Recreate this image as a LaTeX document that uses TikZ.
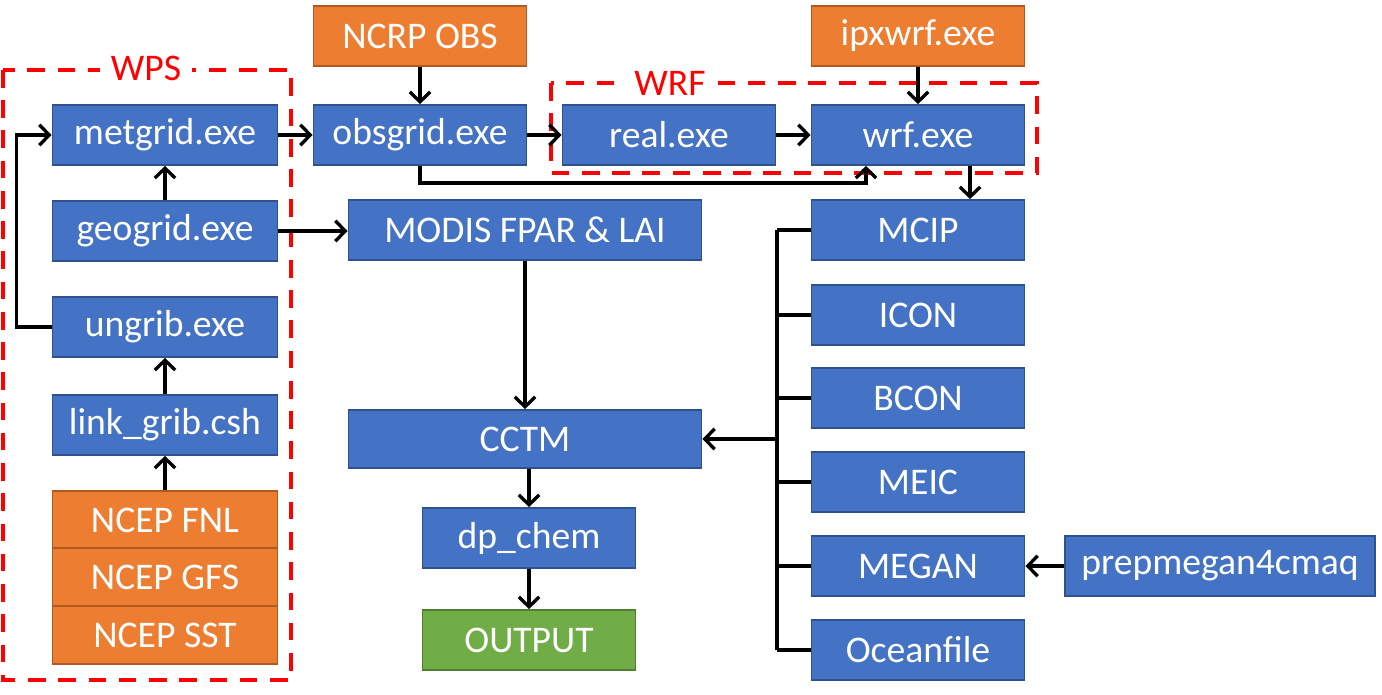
\documentclass[tikz,border=0pt]{standalone}
\usepackage{fontspec}
\setmainfont{Carlito}
\usetikzlibrary{arrows.meta,calc}
\definecolor{boxblue}{HTML}{4472C4}
\definecolor{edgeblue}{HTML}{2F528F}
\definecolor{boxorange}{HTML}{ED7D31}
\definecolor{edgeorange}{HTML}{AE5A21}
\definecolor{boxgreen}{HTML}{70AD47}
\definecolor{edgegreen}{HTML}{507E32}
\begin{document}
\begin{tikzpicture}[x=0.01cm, y=-0.01cm,
	prog/.style={draw=edgeblue, fill=boxblue, line width=0.5pt, text=white, inner sep=0pt,
		minimum width=2.13cm, minimum height=0.6cm, font=\fontsize{10.7pt}{12pt}\selectfont},
	data/.style={prog, draw=edgeorange, fill=boxorange},
	result/.style={prog, draw=edgegreen, fill=boxgreen},
	link/.style={line width=0.95pt},
	arr/.style={link, -{Straight Barb[length=2.8pt, width=5.8pt]}},
	group/.style={draw=red, line width=1.4pt, dash pattern=on 5pt off 3.6pt},
	grouplabel/.style={fill=white, text=red, inner sep=3pt, font=\fontsize{10.7pt}{12pt}\selectfont}]
		%%%%% START %%%%%
		\useasboundingbox (0, 0) rectangle (1382, 695);
		
		\draw[group] (3, 70) rectangle (291, 680);
		\node[grouplabel] (wpslabel) at (146, 68) {WPS};
		\draw[group] (551, 83) rectangle (1037, 173);
		\node[grouplabel] (wrflabel) at (670, 83) {WRF};
		
		\node[data] (ncrp) at (420, 36) {NCRP OBS};
		\node[data] (ipxwrf) at (918, 36) {ipxwrf.exe};
		
		\node[prog, minimum width=2.25cm] (metgrid) at (165, 135) {metgrid.exe};
		\node[prog] (obsgrid) at (420, 135) {obsgrid.exe};
		\node[prog] (real) at (669, 135) {real.exe};
		\node[prog] (wrf) at (918, 135) {wrf.exe};
		
		\node[prog, minimum width=2.25cm] (geogrid) at (165, 231) {geogrid.exe};
		\node[prog, minimum width=3.53cm] (modis) at (525, 230) {MODIS FPAR \& LAI};
		\node[prog, minimum width=2.25cm] (ungrib) at (165, 327) {ungrib.exe};
		\node[prog, minimum width=2.25cm] (linkgrib) at (165, 425) {link\_grib.csh};
		
		\node[data, minimum width=2.25cm, minimum height=0.575cm] (fnl) at (165, 520) {NCEP FNL};
		\node[data, minimum width=2.25cm, minimum height=0.575cm] (gfs) at (165, 577) {NCEP GFS};
		\node[data, minimum width=2.25cm, minimum height=0.575cm] (sst) at (165, 635) {NCEP SST};
		
		\node[prog] (mcip) at (918, 230) {MCIP};
		\node[prog] (icon) at (918, 315) {ICON};
		\node[prog] (bcon) at (918, 398) {BCON};
		\node[prog] (meic) at (918, 482) {MEIC};
		\node[prog] (megan) at (918, 566) {MEGAN};
		\node[prog] (ocean) at (918, 650) {Oceanfile};
		\node[prog, minimum width=3.1cm] (prep) at (1220, 566) {prepmegan4cmaq};
		
		\node[prog, minimum width=3.53cm, minimum height=0.58cm] (cctm) at (525, 439) {CCTM};
		\node[prog] (dpchem) at (529, 538) {dp\_chem};
		\node[result] (output) at (529, 640) {OUTPUT};
		
		% WPS / WRF chain
		\draw[arr] (metgrid) -- (obsgrid);
		\draw[arr] (obsgrid) -- (real);
		\draw[arr] (real) -- (wrf);
		\draw[arr] (ncrp) -- (obsgrid);
		\draw[arr] (ipxwrf) -- (wrf);
		\draw[arr] (obsgrid.south) -- ++(0, 17) -| ([xshift=-0.52cm]wrf.south);
		\draw[arr] (geogrid) -- (metgrid);
		\draw[arr] (geogrid.east) -- (geogrid.east -| modis.west);
		\draw[arr] (ungrib.west) -- ++(-35, 0) |- (metgrid.west);
		\draw[arr] (linkgrib) -- (ungrib);
		\draw[arr] (fnl) -- (linkgrib);
		
		% CMAQ part
		\draw[arr] (modis) -- (cctm);
		\draw[arr] ([xshift=0.52cm]wrf.south) -- ([xshift=0.52cm]mcip.north);
		\coordinate (bus) at (777, 230);
		\draw[link] (bus |- mcip) -- (bus |- ocean);
		\foreach \n in {mcip, icon, bcon, meic, megan, ocean}
			\draw[link] (\n.west) -- (bus |- \n);
		\draw[arr] (bus |- cctm) -- (cctm.east);
		\draw[arr] (prep) -- (megan);
		\draw[arr] (cctm.south -| dpchem) -- (dpchem.north);
		\draw[arr] (dpchem) -- (output);
		%%%%% END %%%%%
\end{tikzpicture}
\end{document}
